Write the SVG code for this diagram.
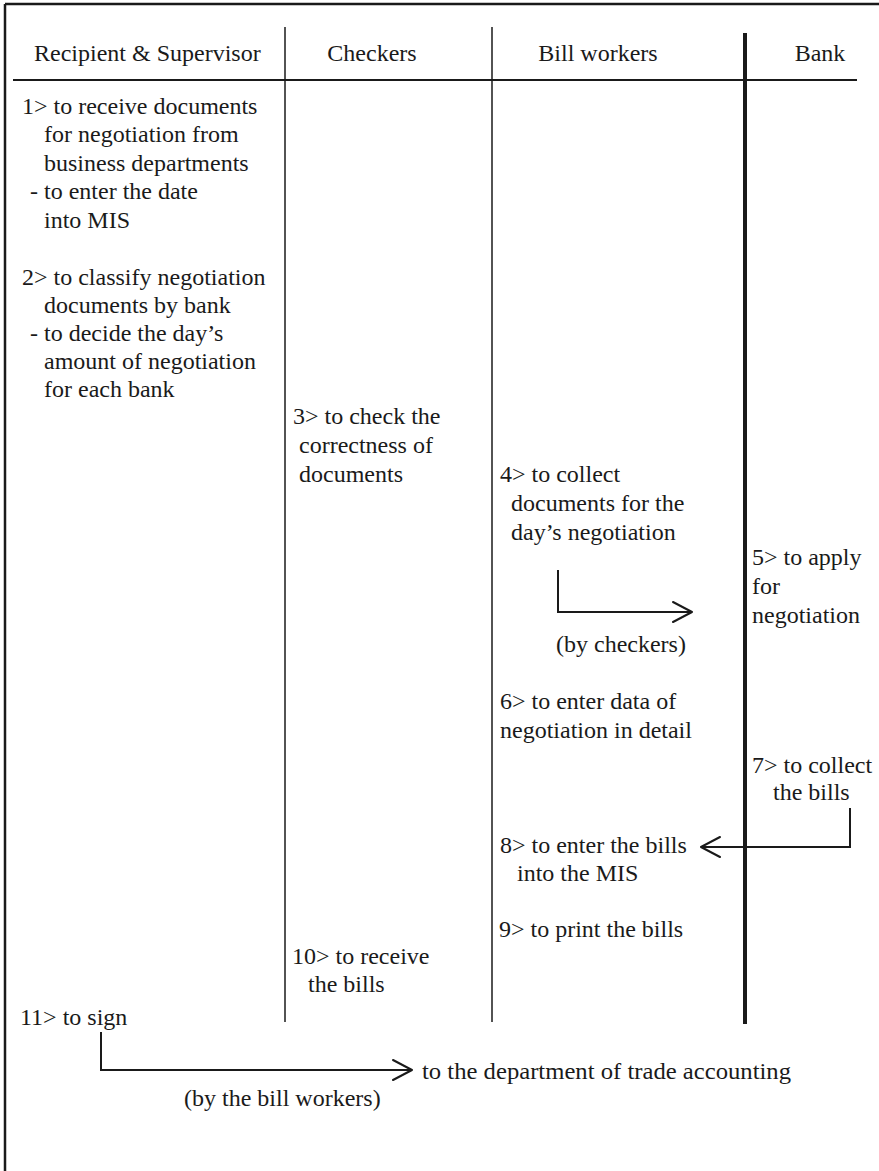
<svg xmlns="http://www.w3.org/2000/svg" width="879" height="1171" viewBox="0 0 879 1171">
<style>
  text { font-family: "Liberation Serif", "Times New Roman", serif; font-size: 24px; fill: #1a1a1a; }
  .frame { stroke: #1a1a1a; stroke-width: 2.5; fill: none; }
  .thin { stroke: #1a1a1a; stroke-width: 1.5; fill: none; }
  .thick { stroke: #1a1a1a; stroke-width: 4; fill: none; }
  .hdr { stroke: #1a1a1a; stroke-width: 2; fill: none; }
  .conn { stroke: #1a1a1a; stroke-width: 2; fill: none; }
  .head { stroke: #1a1a1a; stroke-width: 2; fill: none; stroke-linecap: round; stroke-linejoin: round; }
</style>
<rect width="879" height="1171" fill="#ffffff"/>
<g id="frame">
  <line class="frame" x1="5" y1="4" x2="879" y2="4"/>
  <line class="frame" x1="5" y1="4" x2="5" y2="1171"/>
</g>
<g id="lanes">
  <line class="hdr" x1="13" y1="80" x2="857" y2="80"/>
  <line class="thin" x1="285" y1="27" x2="285" y2="1022"/>
  <line class="thin" x1="492" y1="27" x2="492" y2="1022"/>
  <line class="thick" x1="745" y1="33" x2="745" y2="1024"/>
</g>
<g id="headers">
  <text x="34" y="61">Recipient &amp; Supervisor</text>
  <text x="372" y="61" text-anchor="middle">Checkers</text>
  <text x="598" y="61" text-anchor="middle">Bill workers</text>
  <text x="820" y="61" text-anchor="middle">Bank</text>
</g>
<g id="step1">
  <text x="22" y="114">1&gt; to receive documents</text>
  <text x="44" y="142">for negotiation from</text>
  <text x="44" y="171">business departments</text>
  <text x="30" y="199">- to enter the date</text>
  <text x="44" y="228">into MIS</text>
</g>
<g id="step2">
  <text x="22" y="285">2&gt; to classify negotiation</text>
  <text x="44" y="313">documents by bank</text>
  <text x="30" y="341">- to decide the day’s</text>
  <text x="44" y="369">amount of negotiation</text>
  <text x="44" y="397">for each bank</text>
</g>
<g id="step3">
  <text x="293" y="424">3&gt; to check the</text>
  <text x="299" y="453">correctness of</text>
  <text x="299" y="482">documents</text>
</g>
<g id="step4">
  <text x="500" y="482">4&gt; to collect</text>
  <text x="511" y="511">documents for the</text>
  <text x="511" y="540">day’s negotiation</text>
</g>
<g id="step5">
  <text x="752" y="565">5&gt; to apply</text>
  <text x="752" y="594">for</text>
  <text x="752" y="623">negotiation</text>
</g>
<g id="step6">
  <text x="500" y="709">6&gt; to enter data of</text>
  <text x="500" y="738">negotiation in detail</text>
</g>
<g id="step7">
  <text x="752" y="773">7&gt; to collect</text>
  <text x="773" y="800">the bills</text>
</g>
<g id="step8">
  <text x="500" y="853">8&gt; to enter the bills</text>
  <text x="517" y="881">into the MIS</text>
</g>
<g id="step9">
  <text x="499" y="937">9&gt; to print the bills</text>
</g>
<g id="step10">
  <text x="292" y="964">10&gt; to receive</text>
  <text x="308" y="992">the bills</text>
</g>
<g id="step11">
  <text x="20" y="1025">11&gt; to sign</text>
</g>
<g id="destination">
  <text x="422" y="1079" textLength="369" lengthAdjust="spacingAndGlyphs">to the department of trade accounting</text>
</g>
<g id="connectors">
  <polyline class="conn" points="558,570 558,612 692,612"/>
  <polyline class="head" points="673,602 692,612 673,622"/>
  <text x="556" y="652">(by checkers)</text>
  <polyline class="conn" points="850,808 850,847 701,847"/>
  <polyline class="head" points="720,837 701,847 720,857"/>
  <polyline class="conn" points="101,1032 101,1070 412,1070"/>
  <polyline class="head" points="393,1060 412,1070 393,1080"/>
  <text x="184" y="1106">(by the bill workers)</text>
</g>
</svg>
